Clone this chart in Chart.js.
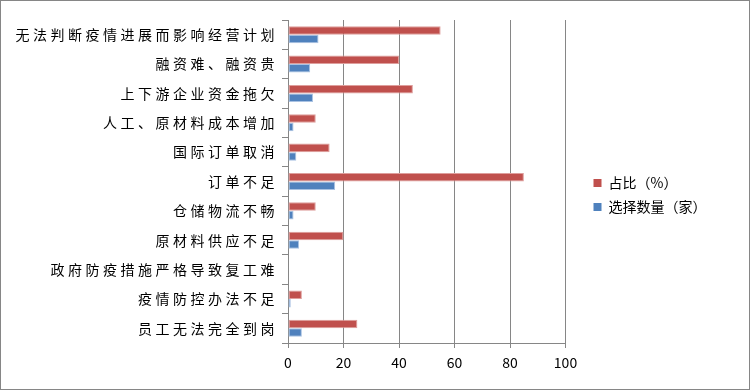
<!DOCTYPE html>
<html>
<head>
<meta charset="utf-8">
<script src="https://cdn.jsdelivr.net/npm/chart.js@4/dist/chart.umd.min.js"></script>
<style>
  body { margin: 0; background: #fff; }
  #wrap { width: 748px; height: 388px; border: 1px solid #868686; }
</style>
</head>
<body>
<div id="wrap"><canvas id="c" width="748" height="388"></canvas></div>
<script>
// categories, top to bottom
var categories = ['无法判断疫情进展而影响经营计划', '融资难、融资贵', '上下游企业资金拖欠', '人工、原材料成本增加',
    '国际订单取消', '订单不足', '仓储物流不畅', '原材料供应不足', '政府防疫措施严格导致复工难',
    '疫情防控办法不足', '员工无法完全到岗'];
var ratioValues = [55, 40, 45, 10, 15, 85, 10, 20, 0, 5, 25];   // 占比（%）
var countValues = [11, 8, 9, 2, 3, 17, 2, 4, 0, 1, 5];         // 选择数量（家）
var xTicks = [0, 20, 40, 60, 80, 100];

var gridGray = '#868686';
var font = '"Noto Sans CJK SC", "Noto Sans", sans-serif';

// wider spacing between characters of the category labels
var spacedLabels = {
    id: 'spacedLabels',
    beforeDraw: function(chart) {
        var s = chart.scales.y;
        if (s && !s._spaced) {
            var orig = s.drawLabels;
            s.drawLabels = function(area) {
                var c = this.ctx;
                c.save();
                c.letterSpacing = '3.5px';
                orig.call(this, area);
                c.restore();
            };
            s._spaced = true;
        }
    }
};

// empty axis used only as spacing
function spacer(pos, size) {
    return {
        type: 'linear',
        position: pos,
        grid: { display: false },
        border: { display: false },
        ticks: { display: false },
        afterFit: function(s) {
            if (pos == 'top') s.height = size; else s.width = size;
        }
    };
}

var ctx = document.getElementById('c').getContext('2d');
var chart = new Chart(ctx, {
    type: 'bar',
    data: {
        labels: categories,
        datasets: [{
            label: '占比（%）',
            data: ratioValues,
            backgroundColor: '#C0504D',
            borderColor: '#DE9E9C',
            borderWidth: 1,
            borderSkipped: false
        }, {
            label: '选择数量（家）',
            data: countValues,
            backgroundColor: '#4F81BD',
            borderColor: '#A9C2E2',
            borderWidth: 1,
            borderSkipped: false
        }]
    },
    options: {
        indexAxis: 'y',
        responsive: false,
        animation: false,
        categoryPercentage: 0.58,
        barPercentage: 1.0,
        layout: { padding: { top: 0, right: 49, left: 0, bottom: 0 } },
        scales: {
            x: {
                min: 0, max: 100,
                afterBuildTicks: function(s) { s.ticks = xTicks.map(function(v) { return { value: v }; }); },
                grid: { color: gridGray, lineWidth: 1, tickLength: 5 },
                border: { color: gridGray },
                ticks: { color: '#000', font: { family: font, size: 14 }, padding: 6, maxRotation: 0 },
                afterFit: function(s) { s.height = 46; }
            },
            y: {
                grid: { offset: true, drawOnChartArea: false, color: gridGray, tickLength: 6 },
                border: { color: gridGray },
                ticks: { color: '#000', font: { family: font, size: 14 }, padding: 4, autoSkip: false },
                afterFit: function(s) { s.width = 287; }
            },
            gapTop: spacer('top', 19),
            gapRight: spacer('right', 18)
        },
        plugins: {
            legend: {
                position: 'right',
                labels: {
                    boxWidth: 8,
                    boxHeight: 8,
                    padding: 10,
                    color: '#000',
                    font: { family: font, size: 14 },
                    generateLabels: function(ch) {
                        return Chart.defaults.plugins.legend.labels.generateLabels(ch).map(function(l) {
                            l.lineWidth = 0;
                            return l;
                        });
                    }
                }
            },
            tooltip: { enabled: false }
        }
    },
    plugins: [spacedLabels]
});
</script>
</body>
</html>
